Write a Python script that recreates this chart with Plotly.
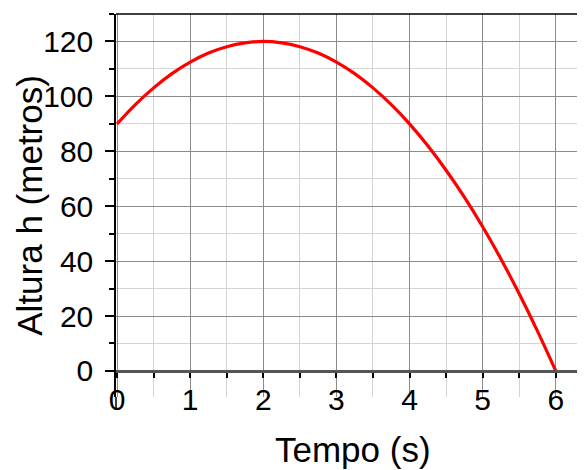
import plotly.graph_objects as go

# Data
tempo = [0, 0.25, 0.5, 0.75, 1, 1.25, 1.5, 1.75, 2, 2.25, 2.5, 2.75, 3,
         3.25, 3.5, 3.75, 4, 4.25, 4.5, 4.75, 5, 5.25, 5.5, 5.75, 6]
altura = [90, 97.0, 103.1, 108.3, 112.5, 115.8, 118.1, 119.5, 120, 119.5, 118.1, 115.8, 112.5,
          108.3, 103.1, 97.0, 90, 82.0, 73.1, 63.3, 52.5, 40.8, 28.1, 14.5, 0]
x_ticks = [0, 1, 2, 3, 4, 5, 6]
y_ticks = [0, 20, 40, 60, 80, 100, 120]
x_title = "Tempo (s)"
y_title = "Altura h (metros)"

FONT = "Liberation Sans, Arial, sans-serif"
y_range = [-9.5, 130]
x_range = [-0.015, 6.4]
x_pos = (0 - y_range[0]) / (y_range[1] - y_range[0])

fig = go.Figure()
fig.add_trace(go.Scatter(x=tempo, y=altura, mode="lines",
                         line=dict(color="#ff0000", width=3.2, shape="spline"),
                         hoverinfo="skip", showlegend=False))

# page has an 8px body margin, so the figure is sized/offset to compensate
fig.update_layout(
    width=577, height=462,
    margin=dict(l=108, r=0, t=6, b=73),
    paper_bgcolor="white", plot_bgcolor="white",
    font=dict(family=FONT, color="black"),
    xaxis=dict(
        range=x_range, anchor="free", position=x_pos, automargin=False,
        tickvals=x_ticks, ticktext=[str(v) for v in x_ticks],
        ticks="outside", ticklen=5, tickwidth=1.5, tickcolor="black",
        ticklabelstandoff=-4,
        tickfont=dict(size=30, family=FONT, color="black"),
        showline=True, linecolor="#555555", linewidth=2.5,
        showgrid=True, gridcolor="#8c8c8c", gridwidth=1.3,
        minor=dict(dtick=0.5, tick0=0, ticks="outside", ticklen=5, tickwidth=1.5,
                   tickcolor="black", showgrid=True, gridcolor="#d4d4d4", gridwidth=1.3),
        zeroline=False,
    ),
    yaxis=dict(
        range=y_range, automargin=False,
        tickvals=y_ticks, ticktext=[str(v) for v in y_ticks],
        ticks="outside", ticklen=9, tickwidth=1.5, tickcolor="black",
        ticklabelstandoff=6,
        tickfont=dict(size=30, family=FONT, color="black"),
        showline=True, linecolor="black", linewidth=1.5,
        showgrid=True, gridcolor="#8c8c8c", gridwidth=1.3,
        minor=dict(dtick=10, tick0=0, ticks="outside", ticklen=5, tickwidth=1.5,
                   tickcolor="black", showgrid=True, gridcolor="#d4d4d4", gridwidth=1.3),
        zeroline=False,
    ),
    annotations=[
        dict(text=x_title, xref="paper", yref="paper", x=0.505, y=-0.138,
             xanchor="center", yanchor="middle", showarrow=False,
             font=dict(size=35, family=FONT, color="black")),
        dict(text=y_title, xref="paper", yref="paper", x=-0.185, y=0.5,
             xanchor="center", yanchor="middle", textangle=-90, showarrow=False,
             borderpad=0, font=dict(size=35, family=FONT, color="black")),
    ],
    shapes=[
        dict(type="line", xref="paper", yref="paper", x0=0, x1=1, y0=1, y1=1,
             line=dict(color="black", width=1.5), layer="above"),
        dict(type="line", xref="paper", yref="paper", x0=0, x1=0, y0=-0.029, y1=0,
             line=dict(color="black", width=1.5), layer="above"),
    ],
)

fig.write_html("out.html")
